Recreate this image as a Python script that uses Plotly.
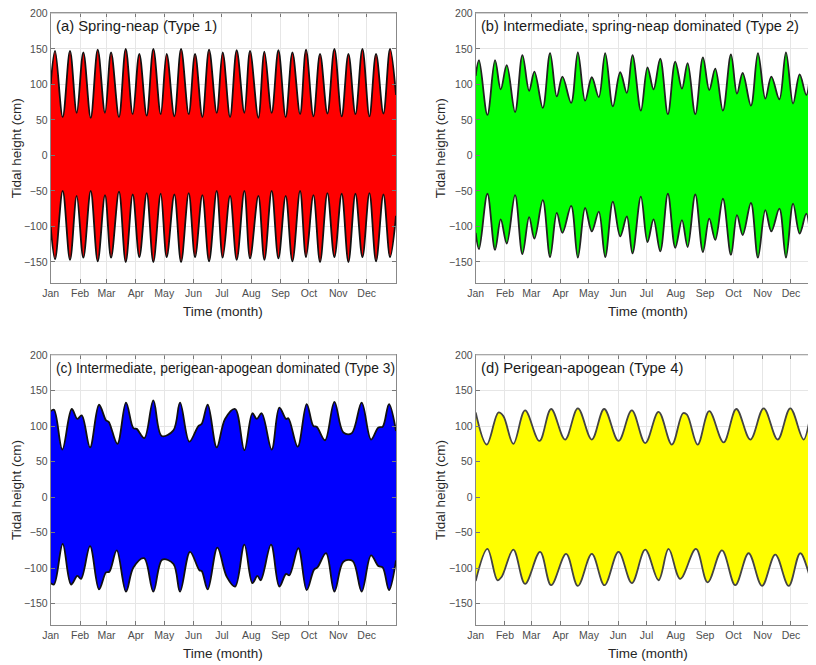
import plotly.graph_objects as go

# ---------------- data (days since 1 Jan, envelope values in cm) ----------------
month_days = [0, 31, 59, 90, 120, 151, 181, 212, 243, 273, 304, 334]
month_labels = ["Jan", "Feb", "Mar", "Apr", "May", "Jun", "Jul", "Aug", "Sep", "Oct", "Nov", "Dec"]
y_ticks = [-150, -100, -50, 0, 50, 100, 150, 200]

# (a) Spring-neap (Type 1)
a_t = [0, 4.6, 12.7, 20.4, 27.5, 34.5, 42.3, 49.7, 57.4, 63.8, 72.2, 79.3, 86.7, 93.7, 101.5,
       108.5, 116.3, 122.6, 130.7, 137.8, 145.9, 152.6, 160.3, 167.4, 175.5, 181.8, 189.6,
       196.6, 204.7, 210.7, 219.5, 225.9, 233.6, 240.7, 248.4, 255.5, 263.6, 269.9, 277.7,
       284.7, 292.5, 299.9, 307.6, 314.7, 322.1, 329.5, 336.9, 343.9, 351.7, 358.7, 365]
a_upper = [100, 147, 54, 147, 60, 145, 53, 149, 60, 145, 54, 150, 58, 143, 56, 150, 58, 143,
           55, 150, 58, 143, 54, 149, 60, 145, 54, 148, 60, 147, 53, 146, 60, 148, 54, 145,
           58, 149, 55, 143, 59, 150, 55, 143, 58, 150, 55, 143, 59, 150, 85]
a_lower = [-100, -146, -50, -147, -57, -144, -50, -149, -56, -144, -51, -150, -55, -143, -53,
           -150, -54, -143, -55, -150, -53, -143, -56, -149, -50, -144, -57, -147, -50, -145,
           -57, -147, -50, -145, -57, -149, -50, -143, -56, -150, -53, -143, -54, -150, -54,
           -143, -53, -149, -55, -143, -85]

# (b) Intermediate, spring-neap dominated (Type 2)
b_t = [0, 3.5, 12.4, 20.5, 26.5, 32.9, 41.7, 49.5, 56.6, 62.2, 71.1, 78.8, 85.9, 91.9, 101.1,
       108.2, 115.9, 123.0, 130.4, 137.2, 145.3, 153.1, 160.1, 166.1, 175.0, 182.0, 188.4,
       195.5, 203.6, 211.4, 218.5, 224.5, 232.6, 240.7, 247.4, 253.8, 261.9, 270.4, 276.8,
       282.8, 291.6, 299.0, 306.8, 313.2, 321.7, 328.7, 336.2, 343.2, 350.3, 357.4, 360.9]
b_upper = [112, 134, 57, 134, 93, 127, 61, 141, 91, 118, 67, 144, 83, 111, 74, 145, 77, 110,
           82, 144, 69, 117, 88, 141, 63, 124, 93, 136, 58, 132, 94, 130, 58, 138, 92, 122,
           63, 142, 87, 116, 70, 144, 80, 111, 79, 145, 73, 114, 85, 142, 119]
b_lower = [-109, -132, -54, -133, -90, -124, -56, -139, -87, -117, -63, -143, -81, -109, -71,
           -144, -74, -107, -79, -143, -65, -114, -86, -138, -58, -122, -90, -135, -54, -130,
           -91, -129, -55, -136, -89, -119, -61, -140, -84, -112, -67, -144, -77, -107, -75,
           -144, -68, -110, -82, -140, -118]

# (c) Intermediate, perigean-apogean dominated (Type 3)
c_tu = [0, 3.5, 12.3, 22.2, 28.2, 32.8, 41.6, 51.1, 58.5, 61.3, 70.5, 79.6, 87.4, 90.9, 99.0,
        108.5, 117.3, 129.7, 136.7, 146.6, 156.1, 159.6, 166.0, 175.5, 184.3, 194.9, 204.7,
        213.2, 217.8, 223.0, 233.6, 241.7, 248.8, 251.2, 261.1, 270.6, 277.7, 281.2, 290.0,
        299.9, 309.4, 318.2, 328.7, 338.6, 346.4, 350.9, 357.6, 365]
c_upper = [121, 123, 67, 124, 110, 115, 70, 130, 108, 106, 75, 133, 97, 96, 83, 136, 86, 94,
           133, 78, 100, 103, 130, 70, 110, 124, 66, 118, 110, 118, 67, 126, 110, 111, 71, 131,
           100, 99, 80, 134, 91, 90, 133, 81, 98, 99, 131, 93]
c_tl = [0, 3.5, 12.7, 21.5, 28.2, 32.1, 41.6, 51.1, 58.5, 62.0, 69.8, 79.6, 87.4, 98.7, 108.5,
        118.0, 129.7, 136.7, 147.3, 157.2, 159.6, 166.0, 176.2, 186.0, 194.9, 204.7, 213.2,
        218.5, 222.0, 232.9, 241.7, 248.8, 252.3, 261.8, 270.6, 278.4, 281.9, 291.1, 299.9,
        309.4, 319.2, 328.7, 338.6, 346.4, 350.9, 357.6, 365]
c_lower = [-121, -123, -66, -123, -111, -115, -69, -130, -106, -105, -75, -133, -99, -86,
           -133, -88, -94, -133, -77, -103, -104, -130, -71, -112, -126, -67, -121, -111, -117,
           -67, -126, -108, -110, -72, -131, -102, -99, -79, -133, -91, -90, -133, -82, -97,
           -99, -131, -89]

# (d) Perigean-apogean (Type 4)
d_tu = [0, 11.7, 24.0, 29.3, 39.9, 52.3, 67.5, 79.9, 94.7, 108.2, 123.0, 136.1, 151.3, 165.4,
        179.6, 193.7, 207.8, 219.5, 223.8, 235.1, 247.4, 262.6, 276.1, 290.9, 305.1, 319.9,
        333.3, 347.5, 357.4, 360.9]
d_upper = [119, 74, 119, 114, 75, 122, 79, 124, 81, 125, 81, 124, 79, 122, 76, 120, 74, 118,
           116, 74, 121, 77, 124, 81, 125, 81, 125, 81, 125, 119]
d_tl = [0, 12.4, 23.0, 27.6, 39.9, 52.3, 68.2, 79.9, 95.8, 108.2, 123.0, 136.4, 151.3, 165.4,
        179.6, 193.7, 204.3, 216.7, 233.3, 245.7, 260.9, 275.0, 289.1, 303.3, 317.4, 331.6,
        343.9, 358.1, 360.9]
d_lower = [-118, -73, -117, -112, -74, -122, -77, -124, -80, -125, -80, -124, -77, -121, -74,
           -117, -73, -115, -73, -120, -75, -124, -79, -125, -81, -125, -79, -124, -116]

panels = [
    dict(tu=a_t, up=a_upper, tl=a_t, lo=a_lower, color="#FF0000", edge="#111111",
         label="(a) Spring-neap (Type 1)", lsize=14.8, row=0, col=0),
    dict(tu=b_t, up=b_upper, tl=b_t, lo=b_lower, color="#00FF00", edge="#222222",
         label="(b) Intermediate, spring-neap dominated (Type 2)", lsize=14.6, row=0, col=1),
    dict(tu=c_tu, up=c_upper, tl=c_tl, lo=c_lower, color="#0000FF", edge="#111111",
         label="(c) Intermediate, perigean-apogean dominated (Type 3)", lsize=13.8, row=1, col=0),
    dict(tu=d_tu, up=d_upper, tl=d_tl, lo=d_lower, color="#FFFF00", edge="#444444",
         label="(d) Perigean-apogean (Type 4)", lsize=14.8, row=1, col=1),
]

# ---------------- layout geometry ----------------
# The page body adds an 8 px offset, so the figure is 8 px smaller and all
# pixel positions below are given relative to the figure's own origin.
OFF = 8
W, H = 816 - OFF, 665 - OFF
FONT = "Liberation Sans, Arial, Helvetica, sans-serif"
col_px = [(50.7 - OFF, 396.0 - OFF), (475.7 - OFF, 816.0 - OFF)]
col_range = [[0, 365], [0, 360.5]]
row_px = [(13.3 - OFF, 283.3 - OFF), (355.0 - OFF, 625.0 - OFF)]
ytitle_x = [16 - OFF, 440 - OFF]

fig = go.Figure()
annotations = []
shapes = []
layout_axes = {}

for i, p in enumerate(panels):
    n = i + 1
    xa = "x" if n == 1 else f"x{n}"
    ya = "y" if n == 1 else f"y{n}"
    fig.add_trace(go.Scatter(x=p["tu"], y=p["up"], mode="lines",
                             line=dict(color=p["edge"], width=1.8, shape="spline", smoothing=1),
                             xaxis=xa, yaxis=ya, showlegend=False, hoverinfo="skip"))
    fig.add_trace(go.Scatter(x=p["tl"], y=p["lo"], mode="lines", fill="tonexty",
                             fillcolor=p["color"],
                             line=dict(color=p["edge"], width=1.8, shape="spline", smoothing=1),
                             xaxis=xa, yaxis=ya, showlegend=False, hoverinfo="skip"))

    x0, x1 = col_px[p["col"]]
    y0, y1 = row_px[p["row"]]
    xkey = "xaxis" if n == 1 else f"xaxis{n}"
    ykey = "yaxis" if n == 1 else f"yaxis{n}"
    layout_axes[xkey] = dict(
        domain=[x0 / W, x1 / W], range=col_range[p["col"]], anchor=ya, automargin=False,
        tickmode="array", tickvals=month_days, ticktext=month_labels,
        ticks="inside", ticklen=4, tickcolor="#777", showline=True, linecolor="#888",
        linewidth=1, mirror="ticks", showgrid=True, gridcolor="#e6e6e6", gridwidth=1,
        zeroline=False, ticklabeloverflow="allow",
        tickfont=dict(family=FONT, size=10.5, color="#4d4d4d"))
    layout_axes[ykey] = dict(
        domain=[1 - y1 / H, 1 - y0 / H], range=[-180, 200], anchor=xa, automargin=False,
        tickmode="array", tickvals=y_ticks,
        ticks="inside", ticklen=4, tickcolor="#777", showline=True, linecolor="#888",
        linewidth=1, mirror="ticks", showgrid=True, gridcolor="#e6e6e6", gridwidth=1,
        zeroline=False, ticklabeloverflow="allow",
        tickfont=dict(family=FONT, size=10.5, color="#4d4d4d"))

    # lighter top border of the box
    shapes.append(dict(type="line", xref=f"{xa} domain", yref=f"{ya} domain",
                       x0=0, x1=1, y0=1, y1=1, line=dict(color="#c8c8c8", width=1),
                       layer="above"))

    annotations.append(dict(text=p["label"], x=(x0 + 3) / W, y=1 - (y0 + 13) / H,
                            xref="paper", yref="paper", xanchor="left", yanchor="middle",
                            showarrow=False,
                            font=dict(family=FONT, size=p["lsize"], color="#1a1a1a")))
    xc = x0 + 172.5
    annotations.append(dict(text="Time (month)", x=xc / W, y=1 - (y1 + 28.5) / H,
                            xref="paper", yref="paper", xanchor="center", yanchor="middle",
                            showarrow=False, font=dict(family=FONT, size=13.5, color="#262626")))
    annotations.append(dict(text="Tidal height (cm)", x=ytitle_x[p["col"]] / W,
                            y=1 - (y0 + y1) / 2 / H,
                            xref="paper", yref="paper", xanchor="center", yanchor="middle",
                            textangle=-90, showarrow=False,
                            font=dict(family=FONT, size=13.5, color="#262626")))

fig.update_layout(width=W, height=H, margin=dict(l=0, r=0, t=0, b=0, autoexpand=False),
                  paper_bgcolor="white", plot_bgcolor="white", template="none",
                  annotations=annotations, shapes=shapes, **layout_axes)

fig.write_html("out.html")
